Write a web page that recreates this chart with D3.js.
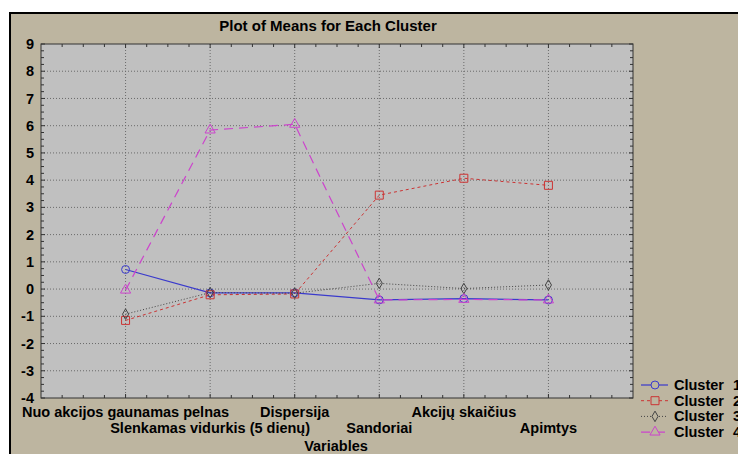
<!DOCTYPE html>
<html>
<head>
<meta charset="utf-8">
<script src="https://cdn.jsdelivr.net/npm/d3@7"></script>
<style>
  body { margin: 0; background: #ffffff; }
  svg text { font-family: "Liberation Sans", Arial, sans-serif; font-weight: bold; fill: #000; }
</style>
</head>
<body>
<div id="chart"></div>
<script>
// chart data
var variables = ["Nuo akcijos gaunamas pelnas", "Slenkamas vidurkis (5 dienų)", "Dispersija",
  "Sandoriai", "Akcijų skaičius", "Apimtys"];
var clusterNames = ["Cluster", "Cluster", "Cluster", "Cluster"];
var clusterNumbers = ["1", "2", "3", "4"];
var cluster1 = [0.72, -0.14, -0.14, -0.4, -0.35, -0.4];
var cluster2 = [-1.15, -0.21, -0.18, 3.45, 4.07, 3.81];
var cluster3 = [-0.92, -0.13, -0.15, 0.21, 0.02, 0.15];
var cluster4 = [-0.04, 5.84, 6.05, -0.4, -0.38, -0.4];
var yTicks = [-4, -3, -2, -1, 0, 1, 2, 3, 4, 5, 6, 7, 8, 9];

var svgWidth = 738, svgHeight = 454;
var margin = { top: 44, right: 105, bottom: 56, left: 41 };
var width = svgWidth - margin.left - margin.right;
var height = svgHeight - margin.top - margin.bottom;
var fontSize = "14.5px";

var svg = d3.select("#chart").append("svg")
  .attr("width", svgWidth)
  .attr("height", svgHeight);

// beige frame with black border
svg.append("rect")
  .attr("x", 10).attr("y", 13)
  .attr("width", svgWidth).attr("height", svgHeight)
  .attr("fill", "#bdb5a0")
  .attr("stroke", "#000").attr("stroke-width", 2);

var g = svg.append("g").attr("transform", `translate(${margin.left}, ${margin.top})`);

var x = d3.scalePoint().domain(variables).range([0, width]).padding(1);
var step = x.step();
var y = d3.scaleLinear().domain([-4, 9]).range([height, 0]);

g.append("rect").attr("width", width).attr("height", height).attr("fill", "#c0c0c0");

// grid
g.selectAll(".hgrid").data(yTicks.slice(1, -1)).enter().append("line")
  .attr("x1", 0).attr("x2", width)
  .attr("y1", d => y(d)).attr("y2", d => y(d))
  .attr("stroke", "#6a6a6a").attr("stroke-dasharray", "1,2");
g.selectAll(".vgrid").data(variables).enter().append("line")
  .attr("x1", d => x(d)).attr("x2", d => x(d))
  .attr("y1", 0).attr("y2", height)
  .attr("stroke", "#6a6a6a").attr("stroke-dasharray", "1,2");

// minor ticks (inward) on all four edges
var xMinor = d3.range(1, 28).map(i => i * step / 4);
var yMinor = d3.range(-4, 9.01, 0.25);
xMinor.forEach(function(px) {
  var len = (Math.abs(px / step - Math.round(px / step)) < 0.01) ? 4 : 3;
  g.append("line").attr("x1", px).attr("x2", px).attr("y1", 0).attr("y2", len).attr("stroke", "#333");
  g.append("line").attr("x1", px).attr("x2", px).attr("y1", height).attr("y2", height - len).attr("stroke", "#333");
});
yMinor.forEach(function(v) {
  var len = Number.isInteger(v) ? 4 : 3;
  g.append("line").attr("x1", 0).attr("x2", len).attr("y1", y(v)).attr("y2", y(v)).attr("stroke", "#333");
  g.append("line").attr("x1", width).attr("x2", width - len).attr("y1", y(v)).attr("y2", y(v)).attr("stroke", "#333");
});

g.append("rect").attr("width", width).attr("height", height)
  .attr("fill", "none").attr("stroke", "#333").attr("stroke-width", 1);

// y labels
g.selectAll(".ylab").data(yTicks).enter().append("text")
  .attr("x", -7).attr("y", d => y(d)).attr("dy", "0.35em")
  .attr("text-anchor", "end").style("font-size", fontSize)
  .text(d => d);

// x labels, staggered in two rows
g.selectAll(".xlab").data(variables).enter().append("text")
  .attr("x", d => x(d))
  .attr("y", (d, i) => height + (i % 2 === 0 ? 19 : 35))
  .attr("text-anchor", "middle").style("font-size", fontSize)
  .text(d => d);

g.append("text").attr("x", 295).attr("y", height + 53)
  .attr("text-anchor", "middle").style("font-size", fontSize).text("Variables");

svg.append("text").attr("x", 328).attr("y", 31)
  .attr("text-anchor", "middle").style("font-size", "15px")
  .text("Plot of Means for Each Cluster");

// series
var series = [
  { values: cluster1, color: "#3a3acc", dash: null, shape: d3.symbolCircle, size: 50, width: 1.2 },
  { values: cluster2, color: "#cc3333", dash: "3,3", shape: d3.symbolSquare, size: 64, width: 1 },
  { values: cluster3, color: "#444444", dash: "1,2", shape: d3.symbolDiamond, size: 32, width: 1 },
  { values: cluster4, color: "#cc44cc", dash: "9,6", shape: d3.symbolTriangle, size: 45, width: 1.2 }
];

var line = d3.line()
  .x((d, i) => x(variables[i]))
  .y(d => y(d));

series.forEach(function(s) {
  g.append("path").datum(s.values)
    .attr("d", line)
    .attr("fill", "none")
    .attr("stroke", s.color)
    .attr("stroke-width", s.width)
    .attr("stroke-dasharray", s.dash);
  g.selectAll(null).data(s.values).enter().append("path")
    .attr("transform", (d, i) => `translate(${x(variables[i])}, ${y(d)})`)
    .attr("d", d3.symbol().type(s.shape).size(s.size))
    .attr("fill", "none")
    .attr("stroke", s.color)
    .attr("stroke-width", 1);
});

// legend
var legend = svg.append("g").attr("transform", "translate(641, 385)");
series.forEach(function(s, i) {
  var row = legend.append("g").attr("transform", `translate(0, ${i * 15.7})`);
  row.append("line").attr("x1", 0).attr("x2", 27).attr("y1", 0).attr("y2", 0)
    .attr("stroke", s.color).attr("stroke-width", s.width)
    .attr("stroke-dasharray", s.dash);
  row.append("path").attr("transform", "translate(14, 0)")
    .attr("d", d3.symbol().type(s.shape).size(s.size))
    .attr("fill", "#bdb5a0").attr("stroke", s.color);
  row.append("text").attr("x", 33).attr("y", 0).attr("dy", "0.35em")
    .style("font-size", fontSize)
    .text(clusterNames[i]);
  row.append("text").attr("x", 92).attr("y", 0).attr("dy", "0.35em")
    .style("font-size", fontSize)
    .text(clusterNumbers[i]);
});
</script>
</body>
</html>
